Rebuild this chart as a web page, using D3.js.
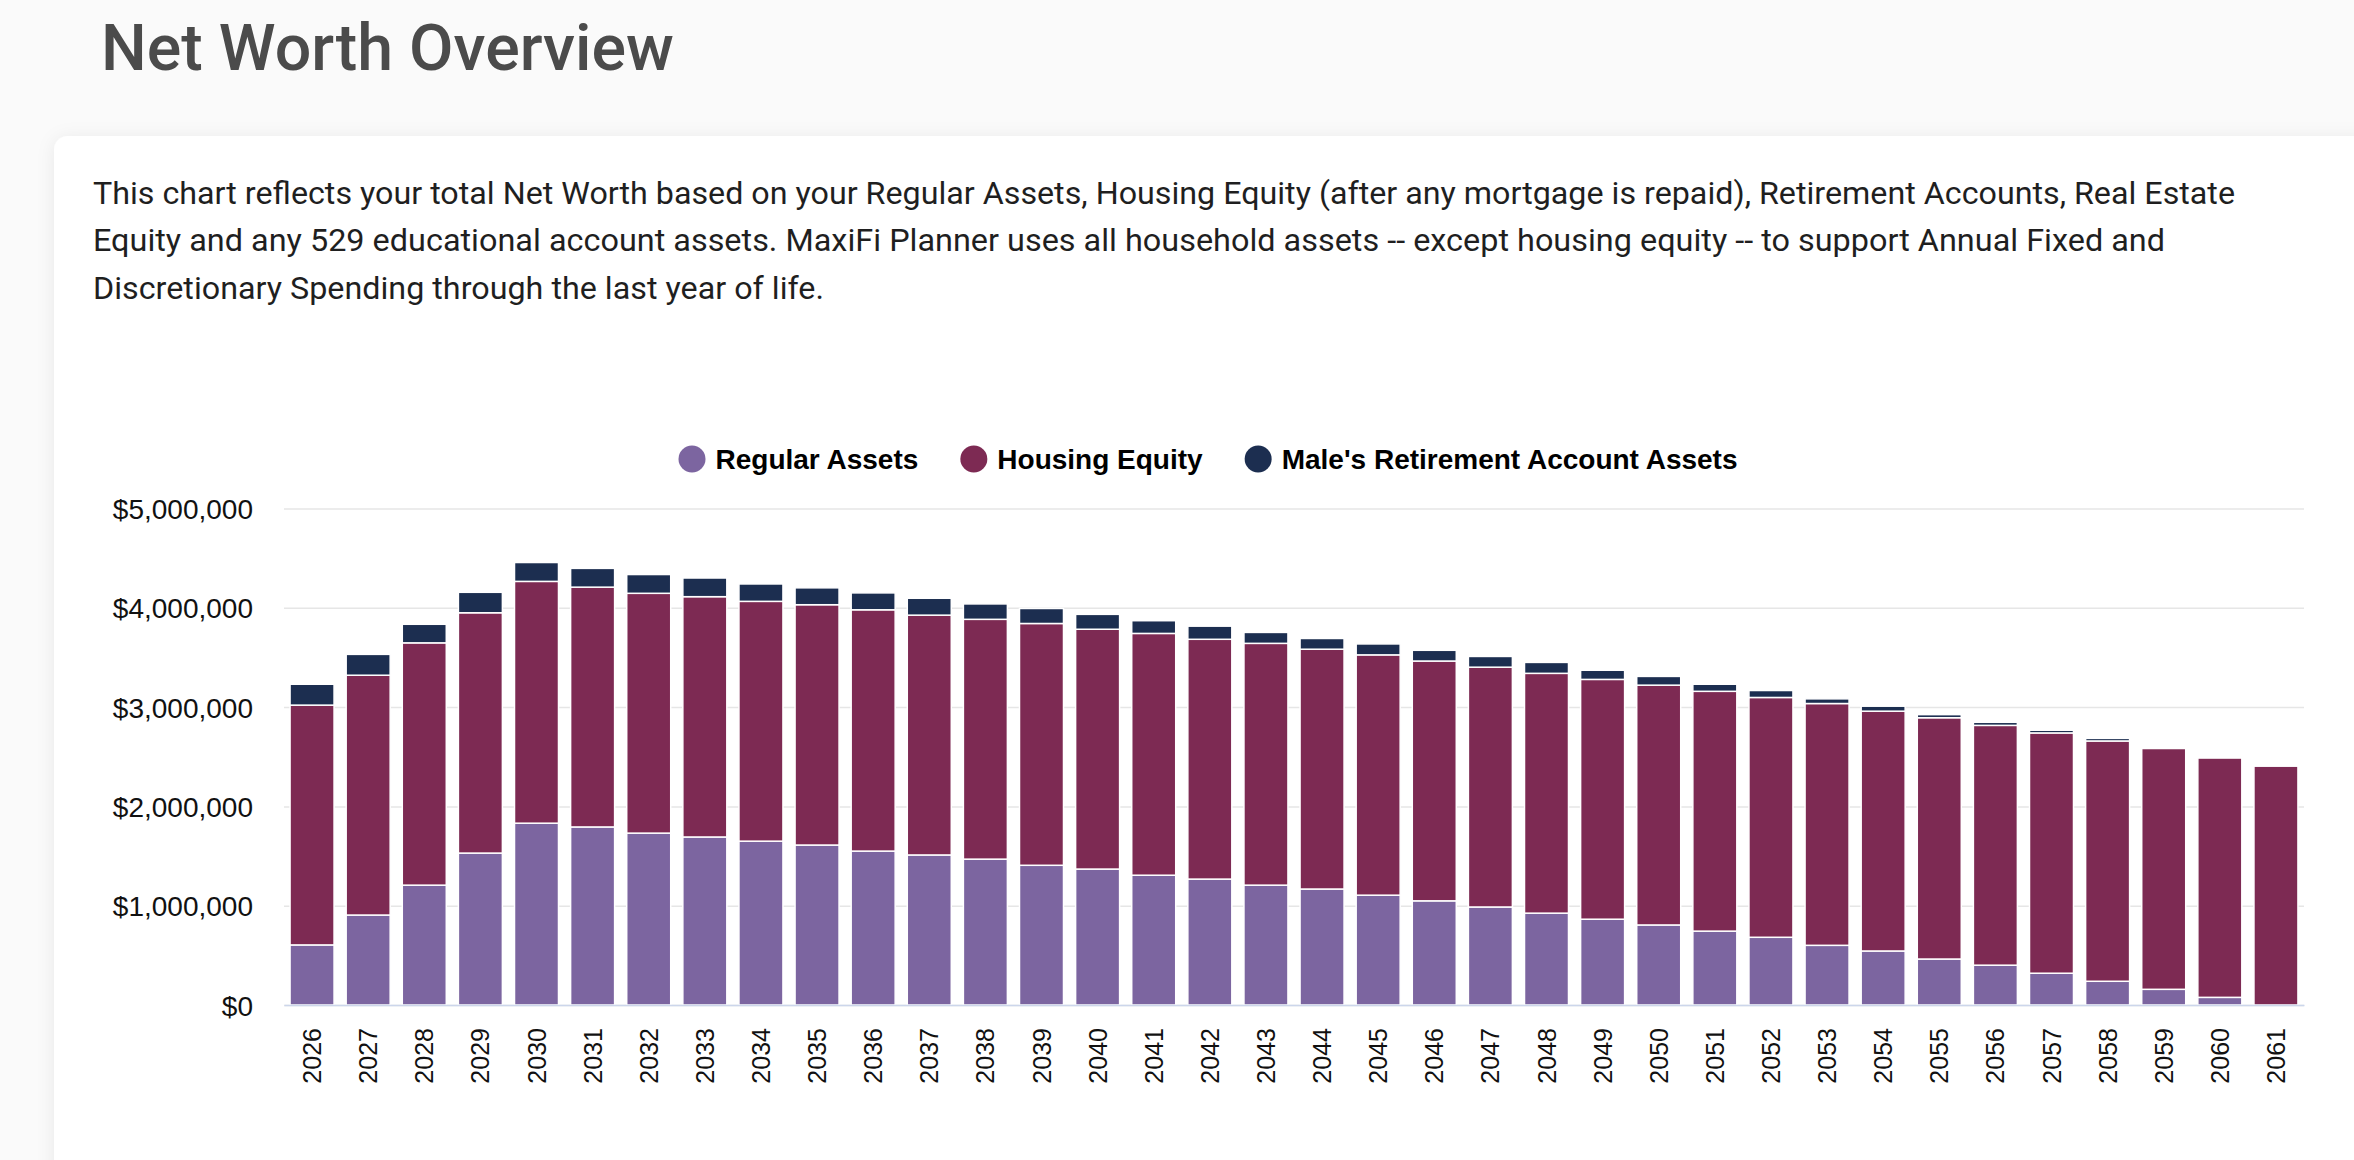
<!DOCTYPE html>
<html>
<head>
<meta charset="utf-8">
<title>Net Worth Overview</title>
<script src="https://cdn.jsdelivr.net/npm/d3@7"></script>
<style>
  html, body { margin: 0; padding: 0; background: #fafafa; overflow: hidden; }
  svg { display: block; }
  .page-title { font-family: Roboto, "Open Sans", sans-serif; font-weight: 500; fill: #4b4b4b; }
  .intro { font-family: Roboto, "Open Sans", sans-serif; fill: #1f1f1f; }
  .axis text { font-family: "Liberation Sans", Arial, sans-serif; fill: #111; }
  .legend text { font-family: "Liberation Sans", Arial, sans-serif; font-weight: bold; fill: #000; }
</style>
</head>
<body>
<svg id="mySVG"></svg>
<script>
// Net worth by year, stacked: regular assets, housing equity, retirement accounts

const years = [2026, 2027, 2028, 2029, 2030, 2031, 2032, 2033, 2034, 2035, 2036, 2037,
    2038, 2039, 2040, 2041, 2042, 2043, 2044, 2045, 2046, 2047, 2048, 2049,
    2050, 2051, 2052, 2053, 2054, 2055, 2056, 2057, 2058, 2059, 2060, 2061];

const regularAssets = [605000, 906000, 1207000, 1530000, 1831000, 1793000, 1731000, 1692000,
    1650000, 1611000, 1550000, 1511000, 1469000, 1407000, 1369000, 1307000, 1268000, 1207000,
    1168000, 1106000, 1049000, 987000, 925000, 864000, 806000, 744000, 682000, 601000,
    544000, 463000, 401000, 320000, 239000, 158000, 77000, 0];

const housingEquity = [2415000, 2415000, 2440000, 2420000, 2435000, 2415000, 2415000, 2420000,
    2415000, 2420000, 2430000, 2415000, 2415000, 2435000, 2415000, 2435000, 2415000, 2435000,
    2415000, 2420000, 2415000, 2415000, 2415000, 2415000, 2415000, 2415000, 2415000, 2435000,
    2415000, 2430000, 2415000, 2420000, 2420000, 2425000, 2410000, 2405000];

const retirementAssets = [210000, 210000, 187000, 206000, 190000, 189000, 189000, 188000,
    175000, 170000, 170000, 170000, 155000, 151000, 150000, 128000, 132000, 110000,
    108000, 110000, 108000, 108000, 110000, 92000, 88000, 71000, 70000, 47000,
    50000, 31000, 31000, 27000, 26000, 0, 0, 0];

const seriesNames = ["Regular Assets", "Housing Equity", "Male's Retirement Account Assets"];
const seriesColors = ["#7c65a0", "#7d2a53", "#1c2e50"];
const yTicks = [0, 1000000, 2000000, 3000000, 4000000, 5000000];

const introLines = [
    "This chart reflects your total Net Worth based on your Regular Assets, Housing Equity (after any mortgage is repaid), Retirement Accounts, Real Estate",
    "Equity and any 529 educational account assets. MaxiFi Planner uses all household assets -- except housing equity -- to support Annual Fixed and",
    "Discretionary Spending through the last year of life."
];
const introWidths = [2142, 2072, 731];

function renderChart() {
    const width = 2354;
    const height = 1160;
    const svg = d3.select("#mySVG")
        .attr("width", width)
        .attr("height", height);

    // card shadow
    const defs = svg.append("defs");
    const shadow = defs.append("filter").attr("id", "cardShadow")
        .attr("x", "-5%").attr("y", "-5%").attr("width", "110%").attr("height", "110%");
    shadow.append("feDropShadow")
        .attr("dx", 0).attr("dy", 2)
        .attr("stdDeviation", 9)
        .attr("flood-color", "#000")
        .attr("flood-opacity", 0.07);

    svg.append("text")
        .attr("class", "page-title")
        .attr("x", 101)
        .attr("y", 70)
        .attr("font-size", 64)
        .attr("textLength", 573)
        .attr("lengthAdjust", "spacingAndGlyphs")
        .text("Net Worth Overview");

    svg.append("rect")
        .attr("x", 54).attr("y", 136)
        .attr("width", 2400).attr("height", 1200)
        .attr("rx", 14)
        .attr("fill", "#fff")
        .attr("filter", "url(#cardShadow)");

    svg.append("g").selectAll("text")
        .data(introLines)
        .enter()
        .append("text")
        .attr("class", "intro")
        .attr("x", 93)
        .attr("y", (d, i) => 204 + i * 47.3)
        .attr("font-size", 31)
        .attr("textLength", (d, i) => introWidths[i])
        .attr("lengthAdjust", "spacingAndGlyphs")
        .text(d => d);

    // chart
    const plot = { left: 284, right: 2304, top: 508.5, bottom: 1005 };

    const rows = years.map((yr, i) => ({
        year: yr,
        regular: regularAssets[i],
        housing: housingEquity[i],
        retirement: retirementAssets[i]
    }));
    const keys = ["regular", "housing", "retirement"];
    const stacked = d3.stack().keys(keys)(rows);

    const x = d3.scaleBand()
        .domain(years)
        .range([plot.left, plot.right])
        .paddingInner(0.216)
        .paddingOuter(0.108);

    const y = d3.scaleLinear()
        .domain([0, 5000000])
        .range([plot.bottom, plot.top]);

    const color = d3.scaleOrdinal().domain(keys).range(seriesColors);

    // y axis with gridlines
    const yAxis = svg.append("g")
        .attr("class", "axis y-axis")
        .attr("transform", `translate(${plot.left},0)`)
        .call(d3.axisLeft(y)
            .tickValues(yTicks)
            .tickSize(-(plot.right - plot.left))
            .tickPadding(31)
            .tickFormat(d => "$" + d3.format(",")(d)));
    yAxis.select(".domain").remove();
    yAxis.selectAll(".tick line")
        .attr("stroke", "#e6e6e6")
        .attr("stroke-width", 1.5);
    yAxis.selectAll(".tick text")
        .attr("font-size", 28)
        .attr("dy", "0.36em");

    // bars
    svg.append("g")
        .selectAll("g")
        .data(stacked)
        .enter()
        .append("g")
        .attr("fill", d => color(d.key))
        .selectAll("rect")
        .data(d => d)
        .enter()
        .append("rect")
        .attr("x", d => x(d.data.year))
        .attr("width", x.bandwidth())
        .attr("y", d => y(d[1]))
        .attr("height", d => Math.max(0, y(d[0]) - y(d[1])))
        .attr("stroke", "#fff")
        .attr("stroke-width", d => (d[1] - d[0]) > 0 ? 1.5 : 0);

    // x axis
    const xAxis = svg.append("g")
        .attr("class", "axis x-axis")
        .attr("transform", `translate(0,${plot.bottom})`)
        .call(d3.axisBottom(x).tickSize(0));
    xAxis.select(".domain")
        .attr("stroke", "#ccd6eb")
        .attr("stroke-width", 1.5);
    xAxis.selectAll(".tick text")
        .attr("font-size", 25)
        .attr("transform", "rotate(-90)")
        .attr("text-anchor", "end")
        .attr("x", -23)
        .attr("y", 0)
        .attr("dy", "0.36em");

    // legend
    const legend = svg.append("g").attr("class", "legend");
    const items = legend.selectAll("g")
        .data(seriesNames)
        .enter()
        .append("g");
    items.append("circle")
        .attr("r", 13.5)
        .attr("cx", 13.5)
        .attr("cy", 0)
        .attr("fill", (d, i) => seriesColors[i]);
    items.append("text")
        .attr("x", 37)
        .attr("y", 0)
        .attr("dy", "0.35em")
        .attr("font-size", 28)
        .text(d => d);

    let offset = 0;
    const widths = [];
    items.each(function () {
        const w = 37 + d3.select(this).select("text").node().getComputedTextLength();
        widths.push(w);
    });
    const gap = 42;
    const total = d3.sum(widths) + gap * (widths.length - 1);
    const start = 1208 - total / 2;
    items.attr("transform", (d, i) => {
        const tx = start + offset;
        offset += widths[i] + gap;
        return `translate(${tx},459)`;
    });
}

renderChart();
</script>
</body>
</html>
